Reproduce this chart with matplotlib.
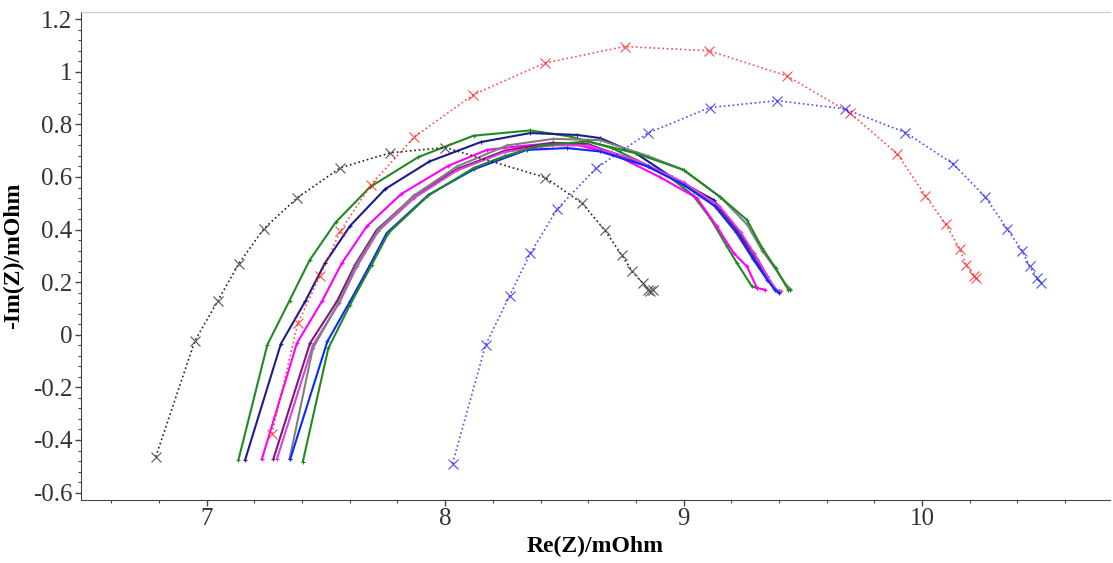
import numpy as np
import matplotlib
matplotlib.use("Agg")
import matplotlib.pyplot as plt
from matplotlib.ticker import MultipleLocator, FuncFormatter

plt.rcParams['font.family'] = ['Liberation Serif', 'DejaVu Serif']
plt.rcParams['axes.unicode_minus'] = False

# dotted reference curves (x markers)
black_re = [6.786, 6.95, 7.046, 7.134, 7.239, 7.38, 7.56, 7.77, 8.0, 8.42, 8.575, 8.67, 8.74, 8.785, 8.83, 8.85, 8.86, 8.87]
black_im = [-0.464, -0.023, 0.129, 0.27, 0.403, 0.521, 0.635, 0.692, 0.712, 0.598, 0.50, 0.397, 0.304, 0.241, 0.195, 0.172, 0.165, 0.17]

red_re = [7.273, 7.382, 7.475, 7.56, 7.688, 7.87, 8.118, 8.417, 8.753, 9.106, 9.432, 9.70, 9.896, 10.015, 10.10, 10.159, 10.185, 10.22, 10.226]
red_im = [-0.376, 0.044, 0.224, 0.393, 0.57, 0.752, 0.913, 1.033, 1.096, 1.08, 0.985, 0.843, 0.688, 0.529, 0.421, 0.326, 0.266, 0.224, 0.216]

blue_re = [8.031, 8.17, 8.27, 8.358, 8.47, 8.634, 8.85, 9.11, 9.393, 9.676, 9.931, 10.131, 10.266, 10.357, 10.42, 10.452, 10.483, 10.50]
blue_im = [-0.49, -0.038, 0.148, 0.311, 0.478, 0.634, 0.767, 0.864, 0.89, 0.859, 0.769, 0.65, 0.524, 0.404, 0.32, 0.26, 0.216, 0.197]

# solid measurement curves
green1_re = [7.133, 7.254, 7.347, 7.431, 7.541, 7.685, 7.888, 8.119, 8.357, 8.525, 8.70, 8.93, 9.04, 9.112, 9.182, 9.224, 9.287, 9.308]
green1_im = [-0.475, -0.038, 0.130, 0.283, 0.428, 0.562, 0.676, 0.757, 0.777, 0.754, 0.71, 0.608, 0.53, 0.444, 0.336, 0.273, 0.184, 0.178]

navy_re = [7.161, 7.311, 7.413, 7.496, 7.601, 7.748, 7.934, 8.15, 8.357, 8.553, 8.65, 8.80, 8.95, 9.126, 9.224, 9.294, 9.35, 9.378, 9.399]
navy_im = [-0.475, -0.034, 0.127, 0.273, 0.414, 0.554, 0.659, 0.733, 0.767, 0.76, 0.748, 0.69, 0.60, 0.513, 0.399, 0.311, 0.222, 0.178, 0.165]

magenta1_re = [7.231, 7.378, 7.483, 7.567, 7.671, 7.815, 8.014, 8.175, 8.301, 8.454, 8.538, 8.70, 8.90, 9.056, 9.14, 9.21, 9.266, 9.308, 9.343]
magenta1_im = [-0.473, -0.032, 0.127, 0.273, 0.412, 0.535, 0.643, 0.703, 0.716, 0.729, 0.725, 0.69, 0.60, 0.52, 0.412, 0.311, 0.26, 0.178, 0.171]

purple_re = [7.279, 7.433, 7.546, 7.622, 7.713, 7.867, 8.05, 8.25, 8.45, 8.60, 8.80, 9.0, 9.13, 9.22, 9.29, 9.35, 9.385, 9.40]
purple_im = [-0.473, -0.032, 0.127, 0.266, 0.399, 0.526, 0.63, 0.70, 0.73, 0.725, 0.66, 0.575, 0.50, 0.40, 0.30, 0.215, 0.17, 0.163]

magenta2_re = [7.294, 7.445, 7.555, 7.63, 7.72, 7.87, 8.05, 8.25, 8.45, 8.60, 8.80, 9.0, 9.15, 9.24, 9.31, 9.36, 9.39, 9.41]
magenta2_im = [-0.473, -0.04, 0.12, 0.26, 0.395, 0.52, 0.625, 0.695, 0.72, 0.72, 0.665, 0.58, 0.49, 0.39, 0.29, 0.21, 0.17, 0.165]

gray_re = [7.347, 7.445, 7.552, 7.63, 7.72, 7.87, 8.05, 8.259, 8.454, 8.65, 8.85, 9.0, 9.154, 9.266, 9.33, 9.378, 9.43, 9.448]
gray_im = [-0.473, -0.051, 0.121, 0.27, 0.40, 0.53, 0.64, 0.72, 0.745, 0.74, 0.68, 0.627, 0.524, 0.42, 0.32, 0.26, 0.19, 0.175]

blue2_re = [7.35, 7.506, 7.601, 7.685, 7.755, 7.93, 8.122, 8.343, 8.511, 8.65, 8.85, 9.0, 9.13, 9.22, 9.29, 9.35, 9.385, 9.399]
blue2_im = [-0.473, -0.025, 0.127, 0.266, 0.387, 0.532, 0.63, 0.703, 0.71, 0.697, 0.64, 0.57, 0.49, 0.39, 0.29, 0.21, 0.17, 0.16]

green2_re = [7.403, 7.51, 7.601, 7.692, 7.762, 7.93, 8.119, 8.245, 8.40, 8.60, 8.80, 9.0, 9.154, 9.266, 9.33, 9.386, 9.44, 9.448]
green2_im = [-0.482, -0.051, 0.114, 0.266, 0.387, 0.53, 0.634, 0.678, 0.72, 0.735, 0.69, 0.627, 0.524, 0.437, 0.33, 0.254, 0.171, 0.171]

fig = plt.figure(figsize=(11.13, 5.63), dpi=100)
ax = fig.add_axes([0.0725, 0.112, 0.925, 0.867])

solid = [(green1_re, green1_im, '#1f8a1f'),
         (navy_re, navy_im, '#1c1c8a'),
         (magenta1_re, magenta1_im, '#ff00ff'),
         (purple_re, purple_im, '#7a1a7a'),
         (magenta2_re, magenta2_im, '#e040e0'),
         (gray_re, gray_im, '#808080'),
         (blue2_re, blue2_im, '#0a2aff'),
         (green2_re, green2_im, '#1f8a1f')]
for re_, im_, c in solid:
    ax.plot(re_, im_, '-', color=c, lw=1.5, marker='+', ms=3, mew=0.8)

ax.plot(black_re, black_im, ':', color='#222222', lw=1.2, marker='x', ms=7, mew=0.8, mec='#555555')
ax.plot(red_re, red_im, ':', color='#ff2020', lw=1.2, marker='x', ms=7, mew=0.8, alpha=0.8)
ax.plot(blue_re, blue_im, ':', color='#2020ff', lw=1.2, marker='x', ms=7, mew=0.8, alpha=0.8)

ax.set_xlim(6.471, 10.79)
ax.set_ylim(-0.628, 1.228)
ax.xaxis.set_major_locator(MultipleLocator(1))
ax.xaxis.set_minor_locator(MultipleLocator(0.2))
ax.yaxis.set_major_locator(MultipleLocator(0.2))
ax.yaxis.set_minor_locator(MultipleLocator(0.04))
ax.yaxis.set_major_formatter(FuncFormatter(lambda v, p: '%g' % round(v, 2)))
ax.xaxis.set_major_formatter(FuncFormatter(lambda v, p: '%g' % round(v, 2)))

ax.tick_params(which='major', direction='out', length=4, width=1, colors='#444444', labelsize=18, labelcolor='#333333', pad=2)
ax.tick_params(which='minor', direction='out', length=2.5, width=0.8, colors='#444444')
ax.spines['left'].set_color('#444444')
ax.spines['bottom'].set_color('#444444')
ax.spines['top'].set_color('#cccccc')
ax.spines['right'].set_visible(False)

ax.set_xlabel('Re(Z)/mOhm', fontsize=17, fontweight='bold', labelpad=4)
ax.set_ylabel('-Im(Z)/mOhm', fontsize=17, fontweight='bold', labelpad=6)

fig.savefig('out.png', dpi=100)
